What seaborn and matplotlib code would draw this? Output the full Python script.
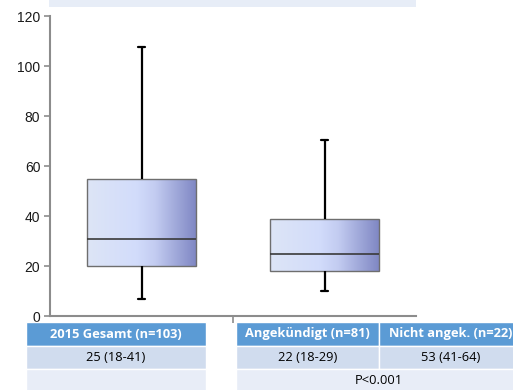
import numpy as np
import pandas as pd
import matplotlib
matplotlib.use("Agg")
import matplotlib.pyplot as plt
from matplotlib.colors import LinearSegmentedColormap
from matplotlib.patches import Rectangle
import seaborn as sns

# Box statistics per group: lower whisker, Q1, median, Q3, upper whisker
groups = ["2015 Gesamt", "Angekündigt"]
stats_gesamt = [7, 20, 31, 55, 107.5]
stats_angek = [10, 18, 25, 39, 70.5]

# Table below the plot
header_left = ["2015 Gesamt (n=103)"]
header_right = ["Angekündigt (n=81)", "Nicht angek. (n=22)"]
median_left = ["25 (18-41)"]
median_right = ["22 (18-29)", "53 (41-64)"]
p_value = "P<0.001"

yticks = [0, 20, 40, 60, 80, 100, 120]

sns.set_theme(style="white")
plt.rcParams["font.family"] = ["Liberation Sans", "DejaVu Sans"]

W, H = 513, 390
fig = plt.figure(figsize=(W / 100, H / 100), dpi=100)


def fx(px):
    return px / W


def fy(py):
    return 1 - py / H


ax = fig.add_axes([fx(50), fy(316), fx(416) - fx(50), fy(16) - fy(316)])

df = pd.DataFrame({
    "group": [groups[0]] * len(stats_gesamt) + [groups[1]] * len(stats_angek),
    "value": stats_gesamt + stats_angek,
})

sns.boxplot(data=df, x="group", y="value", ax=ax, whis=(0, 100), width=0.6,
            color="#d3ddfb", linecolor="#6e6e6e", linewidth=1.0,
            capwidths=0.035,
            whiskerprops=dict(color="black", linewidth=1.6),
            capprops=dict(color="black", linewidth=1.6),
            medianprops=dict(color="#3a3a3a", linewidth=1.2))

# Horizontal gradient fill inside each box
grad = LinearSegmentedColormap.from_list(
    "boxgrad",
    [(0.0, "#dde5f6"), (0.45, "#d2dcfb"), (0.62, "#c3ccf1"), (1.0, "#7e86c3")])
ramp = np.linspace(0, 1, 256).reshape(1, -1)
for patch in list(ax.patches):
    verts = patch.get_path().vertices
    x0, x1 = verts[:, 0].min(), verts[:, 0].max()
    y0, y1 = verts[:, 1].min(), verts[:, 1].max()
    patch.set_facecolor("none")
    patch.set_zorder(3)
    img = ax.imshow(ramp, cmap=grad, aspect="auto", extent=[x0, x1, y0, y1],
                    origin="lower", zorder=2.5, interpolation="bilinear")
    img.set_clip_path(patch)

# Medians, whiskers and caps on top of the gradient
for line in ax.lines:
    line.set_zorder(4)

ax.set_xlim(-0.5, 1.5)
ax.set_ylim(0, 120)
ax.set_yticks(yticks)
ax.set_xticks([0.5])
ax.set_xticklabels([""])
ax.set_xlabel("")
ax.set_ylabel("")
ax.tick_params(axis="y", which="both", left=True, length=4, width=1.2,
               color="#8c8c8c", labelsize=10, labelcolor="#1a1a1a", pad=3)
ax.tick_params(axis="x", bottom=True, length=5, width=1.2, color="#8c8c8c")
for side in ["top", "right"]:
    ax.spines[side].set_visible(False)
for side in ["left", "bottom"]:
    ax.spines[side].set_color("#8c8c8c")
    ax.spines[side].set_linewidth(1.5)

# Light band above the plot area
fig.add_artist(Rectangle((fx(49), fy(7)), fx(416) - fx(49), fy(0) - fy(7),
                         transform=fig.transFigure, facecolor="#e7edf7",
                         edgecolor="none"))


def cell(x0, x1, y0, y1, color, text="", tcolor="black", bold=False):
    fig.add_artist(Rectangle((fx(x0), fy(y1)), fx(x1) - fx(x0), fy(y0) - fy(y1),
                             transform=fig.transFigure, facecolor=color,
                             edgecolor="white", linewidth=1.0))
    if text:
        fig.text(fx((x0 + x1) / 2), fy((y0 + y1) / 2), text,
                 ha="center", va="center", color=tcolor, fontsize=9.3,
                 fontweight="bold" if bold else "normal",
                 family=["Open Sans", "DejaVu Sans"])


hdr, row2, row3 = "#5b9bd5", "#d0dcee", "#e8edf7"
rows = [(322, 346), (346, 369), (369, 392)]

# Left table
cell(26, 206, *rows[0], hdr, header_left[0], "white", True)
cell(26, 206, *rows[1], row2, median_left[0])
cell(26, 206, *rows[2], row3)

# Right table
splits = [(236, 379), (379, 522)]
for (a, b), h, m in zip(splits, header_right, median_right):
    cell(a, b, *rows[0], hdr, h, "white", True)
    cell(a, b, *rows[1], row2, m)
cell(236, 522, *rows[2], row3, p_value)

fig.savefig("out.png", dpi=100)
